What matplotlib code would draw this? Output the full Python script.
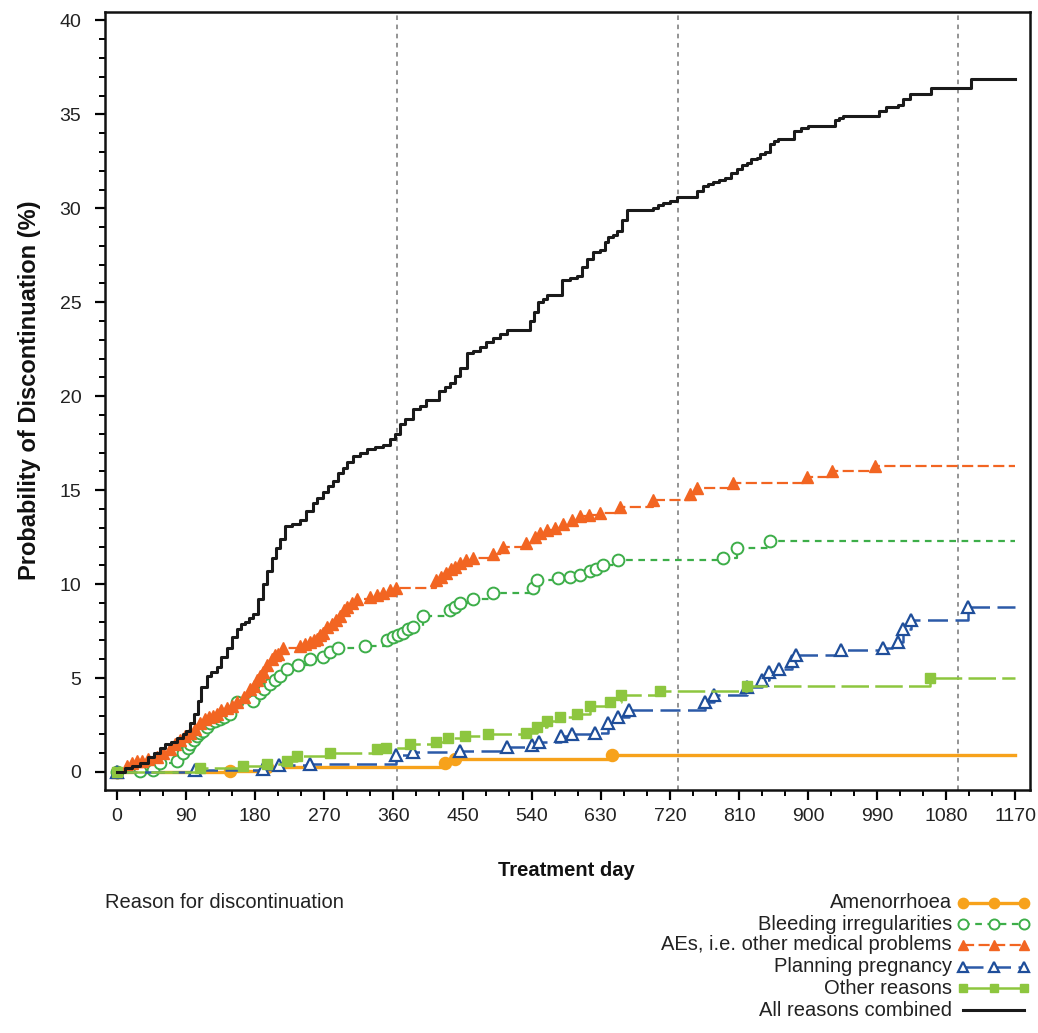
import matplotlib
matplotlib.use('Agg')
import matplotlib.pyplot as plt
from matplotlib.lines import Line2D
from matplotlib.ticker import MultipleLocator

plt.rcParams['font.family'] = ['Liberation Sans', 'DejaVu Sans']

# Kaplan-Meier style cumulative discontinuation (%)
all_days = [0, 10, 20, 30, 40, 48, 56, 63, 70, 78, 86, 90, 95, 100, 105, 110, 117, 123, 130, 136, 143,
            150, 156, 162, 167, 172, 177, 183, 190, 196, 202, 207, 212, 219, 228, 238, 246, 255, 261,
            268, 275, 281, 288, 294, 300, 307, 316, 325, 336, 346, 356, 362, 368, 375, 386, 394, 403,
            414, 420, 427, 434, 440, 447, 456, 464, 473, 481, 490, 499, 508, 538, 543, 548, 555, 560,
            579, 590, 599, 605, 612, 620, 629, 635, 640, 646, 651, 658, 664, 698, 705, 711, 720, 729,
            755, 763, 770, 776, 784, 792, 800, 807, 814, 820, 826, 833, 838, 844, 850, 856, 861, 882,
            891, 900, 935, 940, 946, 993, 1002, 1017, 1024, 1033, 1060, 1112, 1170]
all_vals = [0, 0.2, 0.3, 0.5, 0.8, 1.0, 1.3, 1.5, 1.6, 1.8, 2.0, 2.2, 2.6, 3.1, 3.8, 4.5, 5.1, 5.3, 5.6,
            6.1, 6.6, 7.2, 7.6, 7.9, 8.0, 8.2, 8.4, 9.2, 10.0, 10.7, 11.4, 11.9, 12.4, 13.1, 13.2, 13.4,
            13.9, 14.3, 14.6, 14.9, 15.2, 15.5, 15.9, 16.2, 16.5, 16.8, 17.0, 17.2, 17.3, 17.4, 17.7, 18.0,
            18.5, 18.8, 19.3, 19.5, 19.8, 19.8, 20.3, 20.5, 20.7, 21.1, 21.5, 22.3, 22.4, 22.6, 22.9, 23.1,
            23.3, 23.5, 24.0, 24.5, 25.0, 25.2, 25.4, 26.2, 26.3, 26.4, 26.9, 27.3, 27.7, 27.8, 28.2, 28.5,
            28.6, 28.8, 29.4, 29.9, 30.0, 30.2, 30.3, 30.4, 30.6, 30.9, 31.2, 31.3, 31.4, 31.5, 31.6, 31.9,
            32.1, 32.3, 32.4, 32.6, 32.7, 32.9, 33.0, 33.4, 33.6, 33.7, 34.1, 34.3, 34.4, 34.7, 34.8, 34.9,
            35.2, 35.4, 35.5, 35.8, 36.1, 36.4, 36.9, 36.9]

ae_days = [0, 13, 20, 26, 33, 40, 52, 60, 69, 76, 82, 88, 95, 101, 108, 114, 120, 125, 130, 136, 143,
           150, 156, 165, 173, 178, 182, 186, 190, 196, 202, 206, 210, 216, 238, 245, 251, 256, 260, 264,
           268, 274, 280, 285, 290, 295, 300, 306, 312, 330, 338, 346, 355, 364, 416, 422, 429, 435, 440,
           447, 455, 464, 490, 503, 533, 545, 551, 560, 570, 581, 592, 603, 615, 629, 655, 698, 746, 755,
           802, 898, 931, 987, 1170]
ae_vals = [0, 0.3, 0.5, 0.6, 0.6, 0.7, 0.8, 1.0, 1.2, 1.5, 1.7, 1.9, 2.1, 2.3, 2.6, 2.8, 2.9, 3.0, 3.1,
           3.3, 3.4, 3.5, 3.7, 4.0, 4.4, 4.6, 4.9, 5.1, 5.3, 5.7, 6.0, 6.2, 6.3, 6.6, 6.7, 6.8, 6.9, 7.0,
           7.1, 7.3, 7.4, 7.7, 7.9, 8.1, 8.3, 8.6, 8.8, 9.0, 9.2, 9.3, 9.4, 9.5, 9.7, 9.8, 10.2, 10.4, 10.6,
           10.8, 10.9, 11.1, 11.3, 11.4, 11.6, 12.0, 12.2, 12.5, 12.7, 12.9, 13.0, 13.2, 13.4, 13.6, 13.7,
           13.8, 14.1, 14.5, 14.8, 15.1, 15.4, 15.7, 16.0, 16.3, 16.3]

bleed_days = [0, 30, 47, 56, 78, 86, 92, 95, 100, 104, 108, 112, 117, 121, 127, 134, 140, 147, 156, 177,
              186, 192, 199, 206, 212, 221, 236, 251, 268, 277, 288, 323, 352, 360, 366, 372, 379, 386,
              398, 434, 440, 447, 464, 490, 542, 547, 574, 590, 603, 616, 624, 633, 652, 789, 807, 850,
              1170]
bleed_vals = [0, 0.05, 0.1, 0.5, 0.6, 1.0, 1.3, 1.5, 1.7, 1.9, 2.1, 2.2, 2.4, 2.6, 2.7, 2.8, 2.9, 3.1,
              3.7, 3.8, 4.2, 4.4, 4.7, 4.9, 5.1, 5.5, 5.7, 6.0, 6.1, 6.4, 6.6, 6.7, 7.0, 7.2, 7.3, 7.4,
              7.6, 7.7, 8.3, 8.6, 8.8, 9.0, 9.2, 9.5, 9.8, 10.2, 10.3, 10.4, 10.5, 10.7, 10.8, 11.0, 11.3,
              11.4, 11.9, 12.3, 12.3]

preg_days = [0, 101, 190, 211, 251, 364, 386, 447, 508, 541, 550, 578, 592, 622, 639, 652, 667, 766,
             778, 820, 840, 849, 862, 879, 884, 943, 997, 1017, 1024, 1034, 1108, 1170]
preg_vals = [0, 0.1, 0.15, 0.35, 0.45, 0.9, 1.05, 1.1, 1.35, 1.45, 1.6, 1.9, 2.0, 2.1, 2.6, 2.9, 3.3, 3.7,
             4.1, 4.5, 4.9, 5.3, 5.5, 5.9, 6.2, 6.5, 6.6, 6.9, 7.6, 8.1, 8.8, 8.8]

other_days = [0, 108, 164, 195, 221, 234, 277, 338, 350, 381, 416, 431, 453, 483, 533, 547, 560, 577,
              599, 616, 642, 657, 707, 820, 1059, 1170]
other_vals = [0, 0.2, 0.3, 0.45, 0.6, 0.85, 1.0, 1.2, 1.3, 1.5, 1.6, 1.8, 1.9, 2.0, 2.1, 2.4, 2.7, 2.9,
              3.1, 3.5, 3.7, 4.1, 4.3, 4.6, 5.0, 5.0]

amen_days = [0, 147, 195, 427, 440, 645, 1170]
amen_vals = [0, 0.05, 0.25, 0.5, 0.7, 0.9, 0.9]

year_marks = [365, 730, 1095]

labels = ['Amenorrhoea', 'Bleeding irregularities', 'AEs, i.e. other medical problems',
          'Planning pregnancy', 'Other reasons', 'All reasons combined']

styles = [
    dict(color='#F7A21B', lw=2.4, ls='-', marker='o', ms=8.5, mfc='#F7A21B', mec='#F7A21B', mew=1.2),
    dict(color='#3DAE49', lw=1.6, ls=(0, (3, 2.5)), marker='o', ms=8.5, mfc='white', mec='#3DAE49', mew=1.4),
    dict(color='#F26522', lw=1.6, ls=(0, (5, 2)), marker='^', ms=9, mfc='#F26522', mec='#F26522', mew=1.0),
    dict(color='#2C5AA8', lw=1.8, ls=(0, (8, 3)), marker='^', ms=8.5, mfc='white', mec='#1F4E9A', mew=1.6),
    dict(color='#8DC63F', lw=1.8, ls=(0, (11, 2.5)), marker='s', ms=7.5, mfc='#8DC63F', mec='#8DC63F', mew=1.0),
    dict(color='#1a1a1a', lw=2.2, ls='-', marker=None),
]

series = [(amen_days, amen_vals), (bleed_days, bleed_vals), (ae_days, ae_vals),
          (preg_days, preg_vals), (other_days, other_vals), (all_days, all_vals)]
draw_order = [0, 4, 3, 1, 2, 5]

fig = plt.figure(figsize=(10.38, 10.33), dpi=100)
ax = fig.add_axes([105 / 1038, 1 - 790 / 1033, 925 / 1038, 778 / 1033])

for x in year_marks:
    ax.axvline(x, color='#777777', lw=1.1, ls=(0, (3, 3)), zorder=1)

for i in draw_order:
    d, v = series[i]
    st = styles[i]
    kw = dict(color=st['color'], lw=st['lw'], ls=st['ls'], drawstyle='steps-post', zorder=3 + i)
    if st['marker']:
        kw.update(marker=st['marker'], ms=st['ms'], mfc=st['mfc'], mec=st['mec'], mew=st['mew'],
                  markevery=slice(0, len(d) - 1))
    ax.plot(d, v, **kw)

ax.set_xlim(-15.6, 1189)
ax.set_ylim(-0.96, 40.45)
ax.xaxis.set_major_locator(MultipleLocator(90))
ax.xaxis.set_minor_locator(MultipleLocator(30))
ax.yaxis.set_major_locator(MultipleLocator(5))
ax.yaxis.set_minor_locator(MultipleLocator(1))
ax.tick_params(which='major', direction='out', length=7, width=1.6, labelsize=14,
               labelcolor='#222222', pad=6)
ax.tick_params(which='minor', direction='out', length=4, width=1.4)
ax.tick_params(axis='y', pad=10)
for s in ax.spines.values():
    s.set_linewidth(1.8)
    s.set_color('#111111')

fig.text(566 / 1038, 1 - 870 / 1033, 'Treatment day', ha='center', va='center',
         fontsize=14.5, fontweight='bold', color='#111111')
fig.text(30 / 1038, 1 - 390 / 1033, 'Probability of Discontinuation (%)', ha='center', va='center',
         rotation=90, fontsize=17, fontweight='bold', color='#111111')

fig.text(105 / 1038, 1 - 903 / 1033, 'Reason for discontinuation', ha='left', va='center',
         fontsize=14.5, color='#222222')

# legend drawn by hand: right aligned labels, handle with three markers
row_y = [903, 924, 945, 967, 988, 1010]
hx = [963, 994, 1024]
for i, lab in enumerate(labels):
    yy = 1 - row_y[i] / 1033
    fig.text(952 / 1038, yy, lab, ha='right', va='center', fontsize=14.5, color='#222222')
    st = styles[i]
    xs = [x / 1038 for x in hx]
    line = Line2D(xs, [yy] * 3, transform=fig.transFigure, color=st['color'], lw=st['lw'],
                  ls=st['ls'] if st['marker'] else '-')
    if st['marker']:
        line.set_marker(st['marker'])
        line.set_markersize(st['ms'] * 0.85)
        line.set_markerfacecolor(st['mfc'])
        line.set_markeredgecolor(st['mec'])
        line.set_markeredgewidth(st['mew'])
    fig.add_artist(line)

fig.savefig('out.png', dpi=100)
